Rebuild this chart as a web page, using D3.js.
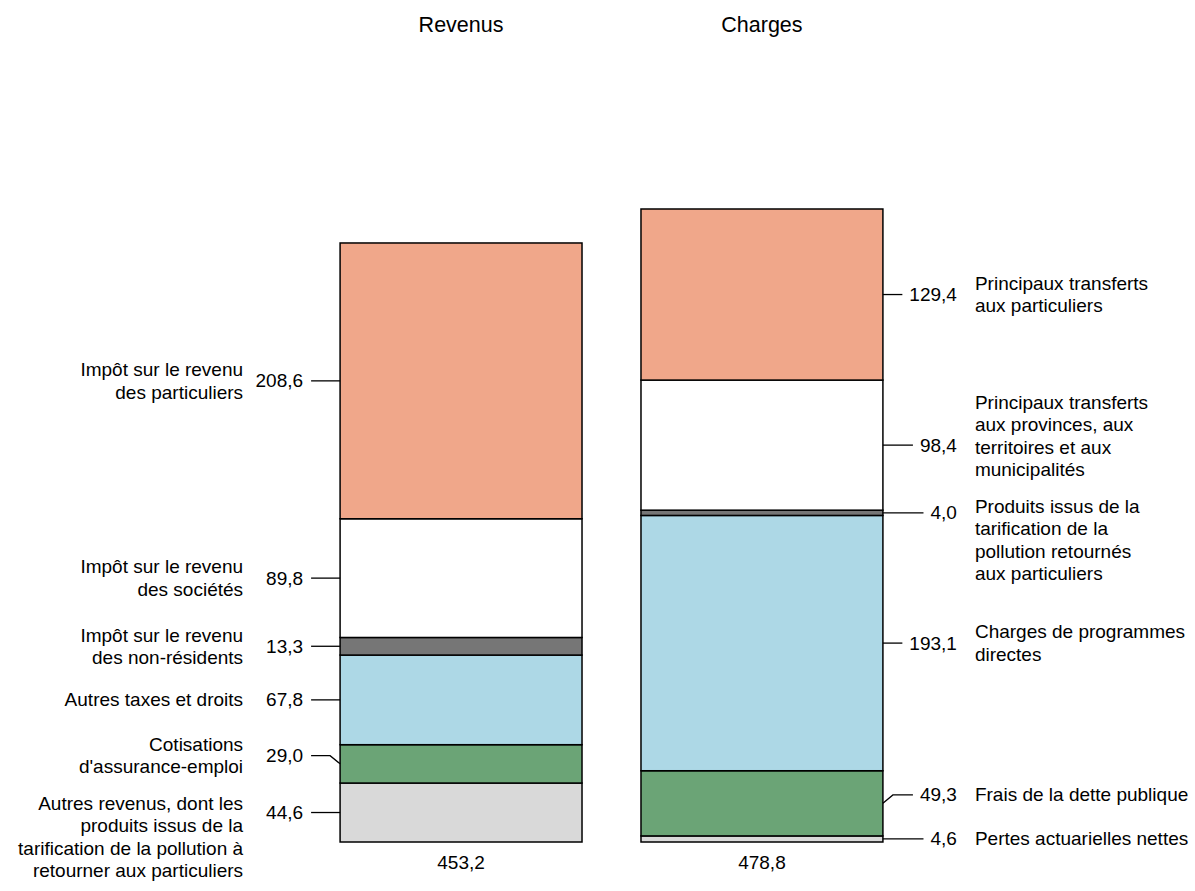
<!DOCTYPE html>
<html>
<head>
<meta charset="utf-8">
<script src="https://cdn.jsdelivr.net/npm/d3@7"></script>
<style>
  body { margin: 0; background: #fff; }
  text { font-family: "Liberation Sans", Arial, sans-serif; fill: #000; }
</style>
</head>
<body>
<div id="chart"></div>
<script>
const categories = ['Revenus', 'Charges'];
const totals = [453.2, 478.8];

// from bottom of the bar to the top
const revenusLabels = [
  ['Autres revenus, dont les', 'produits issus de la', 'tarification de la pollution à', 'retourner aux particuliers'],
  ['Cotisations', "d'assurance-emploi"],
  ['Autres taxes et droits'],
  ['Impôt sur le revenu', 'des non-résidents'],
  ['Impôt sur le revenu', 'des sociétés'],
  ['Impôt sur le revenu', 'des particuliers'],
];
const revenusValues = [44.6, 29.0, 67.8, 13.3, 89.8, 208.6];

const chargesLabels = [
  ['Pertes actuarielles nettes'],
  ['Frais de la dette publique'],
  ['Charges de programmes', 'directes'],
  ['Produits issus de la', 'tarification de la', 'pollution retournés', 'aux particuliers'],
  ['Principaux transferts', 'aux provinces, aux', 'territoires et aux', 'municipalités'],
  ['Principaux transferts', 'aux particuliers'],
];
const chargesValues = [4.6, 49.3, 193.1, 4.0, 98.4, 129.4];

const segmentColors = ['#d9d9d9', '#6ba476', '#add8e6', '#767676', '#ffffff', '#f0a78a'];

const width = 1195;
const height = 891;
const margin = { top: 209, bottom: 49, left: 310, right: 282 };
const fontSize = 19;
const lineH = 22.5;
const fmt = function (v) { return d3.format('.1f')(v).replace('.', ','); };

const svg = d3.select('#chart').append('svg')
  .attr('width', width)
  .attr('height', height);

const x = d3.scaleBand()
  .domain(categories)
  .range([margin.left, width - margin.right])
  .paddingInner(0.196)
  .paddingOuter(0.1);

const y = d3.scaleLinear()
  .domain([0, d3.max(totals)])
  .range([height - margin.bottom, margin.top]);

// push value anchors up so that they keep a minimum distance
const dodge = function (mids, minSep) {
  const out = mids.slice();
  for (let i = 1; i < out.length; i++) {
    if (out[i - 1] - out[i] < minSep) {
      out[i] = out[i - 1] - minSep;
    }
  }
  return out;
};

// spread the text blocks so they don't run into each other
const spread = function (centers, counts, gap) {
  const c = centers.slice();
  for (let it = 0; it < 60; it++) {
    for (let i = 0; i < c.length - 1; i++) {
      const upperBottom = c[i + 1] + counts[i + 1] * lineH / 2;
      const lowerTop = c[i] - counts[i] * lineH / 2;
      const overlap = upperBottom + gap - lowerTop;
      if (overlap > 0.1) {
        c[i + 1] -= overlap / 4;
        c[i] += overlap * 3 / 4;
      }
    }
  }
  return c;
};

const series = [
  { name: categories[0], values: revenusValues, labels: revenusLabels, side: 'left' },
  { name: categories[1], values: chargesValues, labels: chargesLabels, side: 'right' },
];

series.forEach(function (s, si) {
  const x0 = x(s.name);
  const bw = x.bandwidth();
  const ends = d3.cumsum(s.values);
  const segs = s.values.map(function (v, i) {
    return { v: v, y0: ends[i] - v, y1: ends[i], color: segmentColors[i], lines: s.labels[i] };
  });
  const g = svg.append('g');

  g.selectAll('rect.seg')
    .data(segs)
    .enter().append('rect')
    .attr('class', 'seg')
    .attr('x', x0)
    .attr('width', bw)
    .attr('y', function (d) { return y(d.y1); })
    .attr('height', function (d) { return y(d.y0) - y(d.y1); })
    .attr('fill', function (d) { return d.color; })
    .attr('stroke', '#000')
    .attr('stroke-width', 1.5);

  // title and total
  svg.append('text')
    .attr('x', x0 + bw / 2)
    .attr('y', 25)
    .attr('text-anchor', 'middle')
    .attr('dominant-baseline', 'central')
    .style('font-size', '21.5px')
    .text(s.name);
  svg.append('text')
    .attr('x', x0 + bw / 2)
    .attr('y', y(0) + 20)
    .attr('text-anchor', 'middle')
    .attr('dominant-baseline', 'central')
    .style('font-size', fontSize + 'px')
    .text(fmt(totals[si]));

  const mids = segs.map(function (d) { return y((d.y0 + d.y1) / 2); });
  const ly = dodge(mids, 44);
  const counts = segs.map(function (d) { return d.lines.length; });
  const centers = spread(ly, counts, 14);

  segs.forEach(function (d, i) {
    const left = s.side === 'left';
    const edge = left ? x0 : x0 + bw;
    const n = d.lines.length;
    const vy = n <= 2 ? centers[i] : ly[i];
    const valX = left ? edge - 37 : edge + 74;
    const val = g.append('text')
      .attr('x', valX)
      .attr('y', vy)
      .attr('text-anchor', 'end')
      .attr('dominant-baseline', 'central')
      .style('font-size', fontSize + 'px')
      .text(fmt(d.v));
    const valW = val.node().getComputedTextLength();

    let pts;
    if (left) {
      pts = [[valX + 8, vy], [edge - 10, vy], [edge, mids[i]]];
    } else {
      pts = [[edge, mids[i]], [edge + 10, vy], [valX - valW - 7, vy]];
    }
    if (Math.abs(vy - mids[i]) < 1.5) pts = [pts[0], pts[2]];
    g.append('path')
      .attr('d', d3.line()(pts))
      .attr('fill', 'none')
      .attr('stroke', '#000')
      .attr('stroke-width', 1.3);

    const top = centers[i] - (n - 1) * lineH / 2;
    const tx = left ? edge - 97 : edge + 92;
    const block = g.append('text')
      .attr('x', tx)
      .attr('text-anchor', left ? 'end' : 'start')
      .style('font-size', fontSize + 'px');
    block.selectAll('tspan')
      .data(d.lines)
      .enter().append('tspan')
      .attr('x', tx)
      .attr('y', function (t, k) { return top + k * lineH; })
      .attr('dominant-baseline', 'central')
      .text(function (t) { return t; });
  });
});
</script>
</body>
</html>
